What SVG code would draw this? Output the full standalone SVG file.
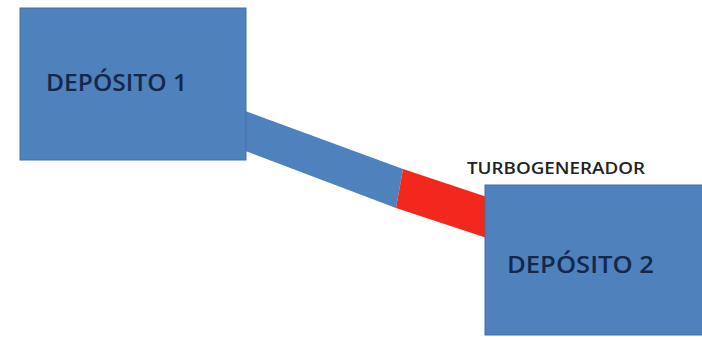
<svg xmlns="http://www.w3.org/2000/svg" width="702" height="337" viewBox="0 0 702 337">
<style>
.box{fill:#4f81bd;stroke:#44709f;stroke-width:1}
.lbl{font-family:"Open Sans","Liberation Sans",sans-serif;font-size:23px;font-weight:600;fill:#15284a}
.cap{font-family:"Open Sans","Liberation Sans",sans-serif;font-size:16px;font-weight:600;fill:#222}
</style>
<rect width="702" height="337" fill="#fff"/>
<g id="connectors">
<polygon points="240,109 403,169 396,208 240,149" fill="#4f81bd"/>
<polygon points="403,169 490,198 490,239 396,208" fill="#f2271d"/>
</g>
<g id="deposito1">
<rect class="box" x="20" y="8" width="226" height="152"/>
<text class="lbl" x="46" y="91" textLength="141" lengthAdjust="spacingAndGlyphs">DEPÓSITO 1</text>
</g>
<g id="deposito2">
<rect class="box" x="485" y="185" width="220" height="150"/>
<text class="lbl" x="507" y="273" textLength="147" lengthAdjust="spacingAndGlyphs">DEPÓSITO 2</text>
</g>
<g id="turbogenerador">
<text class="cap" x="467" y="174" textLength="178" lengthAdjust="spacingAndGlyphs">TURBOGENERADOR</text>
</g>
</svg>
